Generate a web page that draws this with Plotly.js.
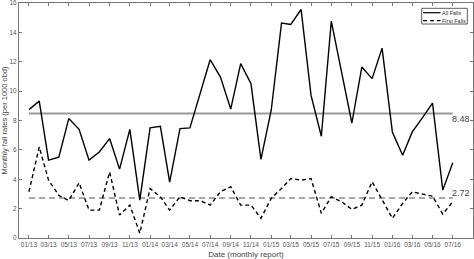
<!DOCTYPE html>
<html>
<head>
<meta charset="utf-8">
<script src="https://cdn.plot.ly/plotly-3.0.1.min.js"></script>
<style>
html,body{margin:0;padding:0;background:#fff;}
#chart{width:474px;height:259px;}
</style>
</head>
<body>
<div id="chart"></div>
<script>
// Monthly reports, 01/2013 .. 07/2016
var startYear = 2013, startMonth = 1, nMonths = 43;
var months = [];
for (var i = 0; i < nMonths; i++) {
  var mm = (startMonth - 1 + i) % 12 + 1;
  var yy = startYear + Math.floor((startMonth - 1 + i) / 12);
  months.push(yy + '-' + (mm < 10 ? '0' + mm : mm) + '-01');
}

var allFalls = [8.74, 9.32, 5.30, 5.50, 8.13, 7.40, 5.30, 5.86, 6.77, 4.69, 7.40, 2.58,
                7.50, 7.60, 3.80, 7.45, 7.50, 9.83, 12.14, 10.96, 8.78, 11.87, 10.50, 5.35,
                8.70, 14.63, 14.54, 15.56, 9.71, 6.93, 14.76, 11.30, 7.83, 11.64, 10.85, 12.93,
                7.22, 5.64, 7.22, 8.20, 9.19, 3.26, 5.12];
var firstFalls = [3.15, 6.20, 3.94, 2.90, 2.55, 3.76, 1.90, 1.90, 4.50, 1.56, 2.24, 0.32,
                  3.37, 2.80, 1.90, 2.81, 2.54, 2.54, 2.24, 3.15, 3.49, 2.24, 2.24, 1.34,
                  2.70, 3.37, 4.05, 3.94, 4.05, 1.68, 2.81, 2.47, 1.95, 2.24, 3.83, 2.58,
                  1.34, 2.36, 3.15, 2.99, 2.85, 1.63, 2.47];
var meanAll = 8.48;
var meanFirst = 2.72;
var seriesNames = ['All Falls', 'First Falls'];
var yTicks = [0, 2, 4, 6, 8, 10, 12, 14, 16];

var firstX = months[0], lastX = months[months.length - 1];
var gray = '#555';

var allStyle = {color: '#000', width: 1.4};
var firstStyle = {color: '#000', width: 1.4, dash: '4px,3px'};

var traces = [
  {x: [firstX, lastX], y: [meanAll, meanAll], mode: 'lines', showlegend: false,
   line: {color: '#9a9a9a', width: 2}, hoverinfo: 'skip'},
  {x: [firstX, lastX], y: [meanFirst, meanFirst], mode: 'lines', showlegend: false,
   line: {color: '#8a8a8a', width: 1.5, dash: '6px,4px'}, hoverinfo: 'skip'},
  {x: months, y: allFalls, mode: 'lines', name: seriesNames[0], showlegend: false, line: allStyle},
  {x: months, y: firstFalls, mode: 'lines', name: seriesNames[1], showlegend: false, line: firstStyle}
];

// compact legend box (paper coordinates)
var lg = {x0: 0.887, x1: 0.9875, y0: 0.9106, y1: 0.9774, lx0: 0.8899, lx1: 0.9284, tx: 0.9306, r1: 0.9587, r2: 0.9247};

var layout = {
  width: 474, height: 259,
  margin: {l: 19, r: 1, t: 3, b: 21},
  paper_bgcolor: '#fff', plot_bgcolor: '#fff',
  font: {family: 'Liberation Sans, Arial, sans-serif', color: gray, size: 7},
  showlegend: false,
  xaxis: {
    type: 'date',
    range: ['2012-12-02', '2016-08-31'],
    tick0: '2013-01-01', dtick: 'M2', tickformat: '%m/%y',
    ticks: 'inside', ticklen: 3, tickcolor: '#777', tickwidth: 1,
    showline: true, linecolor: '#777', linewidth: 1, mirror: 'ticks',
    showgrid: false, zeroline: false,
    tickfont: {size: 6.5, color: gray},
    title: {text: 'Date (monthly report)', font: {size: 8, color: '#444'}, standoff: 4}
  },
  yaxis: {
    range: [0, 16.001], tickmode: 'array', tickvals: yTicks, ticktext: yTicks.map(String),
    ticks: 'inside', ticklen: 3, tickcolor: '#777', tickwidth: 1,
    showline: true, linecolor: '#777', linewidth: 1, mirror: 'ticks',
    showgrid: false, zeroline: false, ticklabeloverflow: 'allow',
    tickfont: {size: 6.5, color: gray},
    title: {text: 'Monthly fall rates (per 1000 obd)', font: {size: 7.5, color: '#444'}, standoff: 2}
  },
  shapes: [
    {type: 'rect', xref: 'paper', yref: 'paper', x0: lg.x0, x1: lg.x1, y0: lg.y0, y1: lg.y1,
     line: {color: '#333', width: 0.8}, fillcolor: '#fff', layer: 'above'},
    {type: 'line', xref: 'paper', yref: 'paper', x0: lg.lx0, x1: lg.lx1, y0: lg.r1, y1: lg.r1,
     line: {color: '#000', width: 1.2}, layer: 'above'},
    {type: 'line', xref: 'paper', yref: 'paper', x0: lg.lx0, x1: lg.lx1, y0: lg.r2, y1: lg.r2,
     line: {color: '#000', width: 1.2, dash: '4px,3px'}, layer: 'above'}
  ],
  annotations: [
    {x: lastX, y: meanAll, xref: 'x', yref: 'y', text: meanAll.toFixed(2), showarrow: false,
     xanchor: 'left', yanchor: 'middle', xshift: -3, yshift: -6, font: {size: 9, color: '#444'}},
    {x: lastX, y: meanFirst, xref: 'x', yref: 'y', text: meanFirst.toFixed(2), showarrow: false,
     xanchor: 'left', yanchor: 'middle', xshift: -3, yshift: 5, font: {size: 9, color: '#444'}},
    {x: lg.tx, y: lg.r1, xref: 'paper', yref: 'paper', text: seriesNames[0], showarrow: false,
     xanchor: 'left', yanchor: 'middle', borderpad: 0, font: {size: 5.5, color: '#333'}},
    {x: lg.tx, y: lg.r2, xref: 'paper', yref: 'paper', text: seriesNames[1], showarrow: false,
     xanchor: 'left', yanchor: 'middle', borderpad: 0, font: {size: 5.5, color: '#333'}}
  ]
};

Plotly.newPlot('chart', traces, layout, {staticPlot: true, displayModeBar: false});
</script>
</body>
</html>
